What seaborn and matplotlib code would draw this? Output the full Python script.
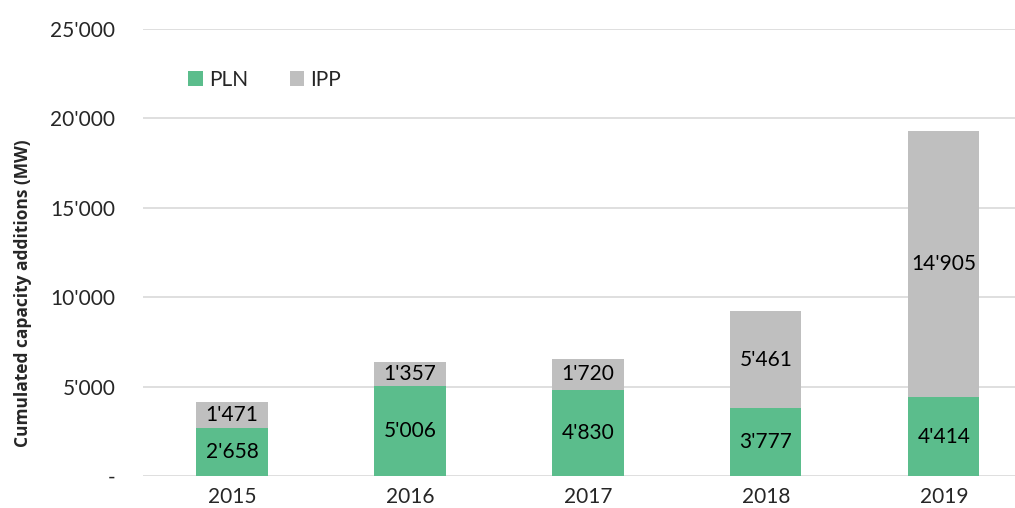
import pandas as pd
import numpy as np
import matplotlib.pyplot as plt
import seaborn as sns

years = ["2015", "2016", "2017", "2018", "2019"]
pln = [2658, 5006, 4830, 3777, 4414]
ipp = [1471, 1357, 1720, 5461, 14905]

green = "#5BBD8C"
grey = "#BFBFBF"

def fmt(v):
    return "{:,}".format(int(v)).replace(",", "'")

df = pd.DataFrame({"year": years, "PLN": pln, "IPP": ipp})
df["total"] = df["PLN"] + df["IPP"]

sns.set_style("white")
plt.rcParams["font.family"] = ["Lato", "DejaVu Sans"]

fig = plt.figure(figsize=(10.15, 5.08), dpi=100)
ax = fig.add_axes([0.141, 0.063, 0.859, 0.88])

sns.barplot(data=df, x="year", y="total", color=grey, width=0.4, ax=ax,
            saturation=1, label="IPP", zorder=3, linewidth=0)
sns.barplot(data=df, x="year", y="PLN", color=green, width=0.4, ax=ax,
            saturation=1, label="PLN", zorder=3, linewidth=0)

for i in range(len(years)):
    ax.text(i, pln[i] / 2, fmt(pln[i]), ha="center", va="center",
            fontsize=15, color="black", zorder=4)
    ax.text(i, pln[i] + ipp[i] / 2, fmt(ipp[i]), ha="center", va="center",
            fontsize=15, color="black", zorder=4)

ax.set_ylim(0, 25000)
ax.set_xlim(-0.5, 4.4)
ticks = [0, 5000, 10000, 15000, 20000, 25000]
ax.set_yticks(ticks)
ax.set_yticklabels(["-"] + [fmt(t) for t in ticks[1:]], fontsize=15)
ax.tick_params(axis="x", labelsize=15, length=0, pad=8)
ax.tick_params(axis="y", length=0, pad=20)
ax.yaxis.grid(True, color="#D9D9D9", linewidth=1.2, zorder=0)
ax.set_axisbelow(True)
for s in ax.spines.values():
    s.set_visible(False)
ax.set_xlabel("")
ax.set_ylabel("Cumulated capacity additions (MW)", fontsize=12.5,
              fontweight="bold", family=["Open Sans", "DejaVu Sans"])
ax.yaxis.set_label_coords(-0.128, 0.41)

handles, labels = ax.get_legend_handles_labels()
order = [labels.index("PLN"), labels.index("IPP")]
ax.legend([handles[k] for k in order], [labels[k] for k in order],
          loc="upper left", bbox_to_anchor=(0.03, 0.95), ncol=2, frameon=False,
          fontsize=15, handlelength=0.7, handleheight=0.7, columnspacing=2.0,
          handletextpad=0.3)

plt.savefig("out.png", dpi=100)
